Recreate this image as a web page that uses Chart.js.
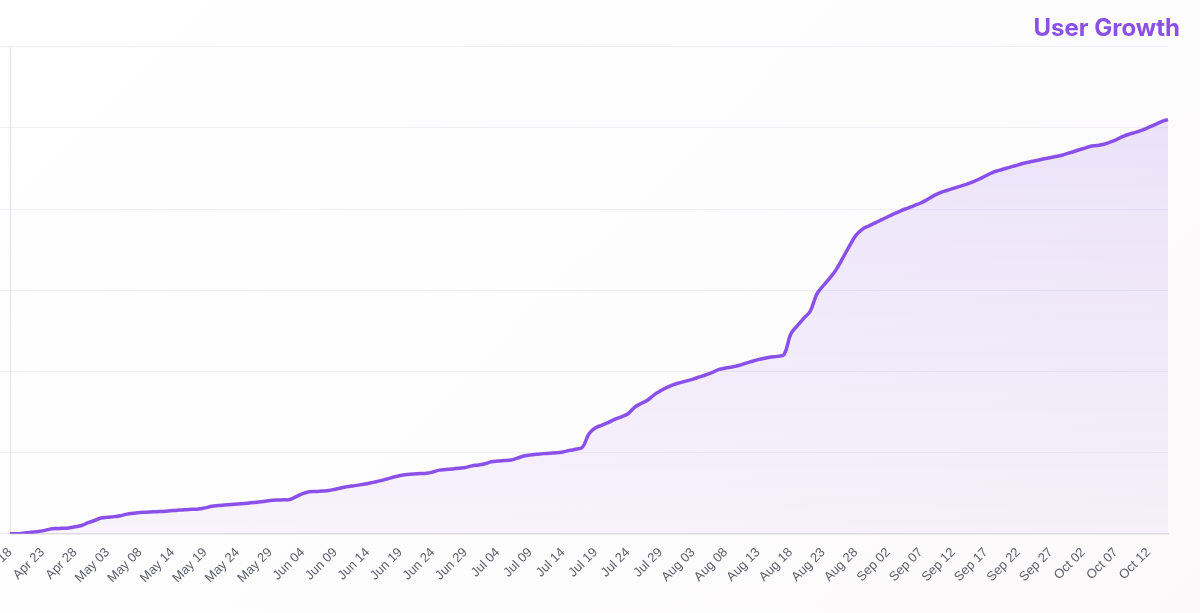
<!DOCTYPE html>
<html>
<head>
<meta charset="utf-8">
<title>User Growth</title>
<script src="https://cdn.jsdelivr.net/npm/chart.js@4.4.1/dist/chart.umd.min.js"></script>
<style>
    html, body { margin: 0; padding: 0; }
    body {
        width: 1200px;
        height: 613px;
        overflow: hidden;
        background: linear-gradient(135deg, #ffffff 0%, #fefdfd 55%, #fbf9f9 100%);
    }
    #chart-wrap { position: relative; width: 1200px; height: 613px; }
</style>
</head>
<body>
<div id="chart-wrap"><canvas id="growthChart"></canvas></div>
<script>
// --- data (daily, May 11 and Jun 01 missing) ---

const dateLabels = [
    'Apr 18', 'Apr 19', 'Apr 20', 'Apr 21', 'Apr 22', 'Apr 23', 'Apr 24', 'Apr 25', 'Apr 26', 'Apr 27', 'Apr 28', 'Apr 29', 'Apr 30',
    'May 01', 'May 02', 'May 03', 'May 04', 'May 05', 'May 06', 'May 07', 'May 08', 'May 09', 'May 10', 'May 12', 'May 13', 'May 14',
    'May 15', 'May 16', 'May 17', 'May 18', 'May 19', 'May 20', 'May 21', 'May 22', 'May 23', 'May 24', 'May 25', 'May 26', 'May 27',
    'May 28', 'May 29', 'May 30', 'May 31',
    'Jun 02', 'Jun 03', 'Jun 04', 'Jun 05', 'Jun 06', 'Jun 07', 'Jun 08', 'Jun 09', 'Jun 10', 'Jun 11', 'Jun 12', 'Jun 13', 'Jun 14',
    'Jun 15', 'Jun 16', 'Jun 17', 'Jun 18', 'Jun 19', 'Jun 20', 'Jun 21', 'Jun 22', 'Jun 23', 'Jun 24', 'Jun 25', 'Jun 26', 'Jun 27',
    'Jun 28', 'Jun 29', 'Jun 30',
    'Jul 01', 'Jul 02', 'Jul 03', 'Jul 04', 'Jul 05', 'Jul 06', 'Jul 07', 'Jul 08', 'Jul 09', 'Jul 10', 'Jul 11', 'Jul 12', 'Jul 13',
    'Jul 14', 'Jul 15', 'Jul 16', 'Jul 17', 'Jul 18', 'Jul 19', 'Jul 20', 'Jul 21', 'Jul 22', 'Jul 23', 'Jul 24', 'Jul 25', 'Jul 26',
    'Jul 27', 'Jul 28', 'Jul 29', 'Jul 30', 'Jul 31',
    'Aug 01', 'Aug 02', 'Aug 03', 'Aug 04', 'Aug 05', 'Aug 06', 'Aug 07', 'Aug 08', 'Aug 09', 'Aug 10', 'Aug 11', 'Aug 12', 'Aug 13',
    'Aug 14', 'Aug 15', 'Aug 16', 'Aug 17', 'Aug 18', 'Aug 19', 'Aug 20', 'Aug 21', 'Aug 22', 'Aug 23', 'Aug 24', 'Aug 25', 'Aug 26',
    'Aug 27', 'Aug 28', 'Aug 29', 'Aug 30', 'Aug 31',
    'Sep 01', 'Sep 02', 'Sep 03', 'Sep 04', 'Sep 05', 'Sep 06', 'Sep 07', 'Sep 08', 'Sep 09', 'Sep 10', 'Sep 11', 'Sep 12', 'Sep 13',
    'Sep 14', 'Sep 15', 'Sep 16', 'Sep 17', 'Sep 18', 'Sep 19', 'Sep 20', 'Sep 21', 'Sep 22', 'Sep 23', 'Sep 24', 'Sep 25', 'Sep 26',
    'Sep 27', 'Sep 28', 'Sep 29', 'Sep 30',
    'Oct 01', 'Oct 02', 'Oct 03', 'Oct 04', 'Oct 05', 'Oct 06', 'Oct 07', 'Oct 08', 'Oct 09', 'Oct 10', 'Oct 11', 'Oct 12', 'Oct 13',
    'Oct 14', 'Oct 15'
];

// cumulative users
const userCounts = [
    0, 1, 8, 16, 26, 36, 55, 65, 68, 73,
    86, 103, 137, 164, 195, 204, 212, 223, 243, 253,
    262, 266, 271, 275, 279, 286, 293, 298, 302, 307,
    320, 340, 349, 355, 361, 367, 374, 382, 390, 399,
    410, 416, 419, 422, 459, 496, 518, 522, 527, 534,
    550, 567, 584, 594, 606, 621, 637, 655, 677, 700,
    718, 730, 738, 742, 746, 762, 785, 792, 800, 809,
    818, 837, 849, 864, 887, 896, 902, 909, 933, 958,
    972, 980, 988, 994, 998, 1009, 1028, 1042, 1068, 1233,
    1306, 1339, 1372, 1412, 1442, 1479, 1558, 1606, 1646, 1712,
    1762, 1804, 1838, 1862, 1885, 1906, 1933, 1960, 1990, 2025,
    2042, 2056, 2073, 2100, 2123, 2146, 2164, 2178, 2186, 2211,
    2459, 2562, 2654, 2742, 2950, 3056, 3151, 3255, 3396, 3540,
    3674, 3751, 3793, 3831, 3870, 3909, 3946, 3982, 4013, 4044,
    4076, 4118, 4166, 4203, 4230, 4256, 4281, 4306, 4336, 4371,
    4411, 4451, 4477, 4500, 4523, 4546, 4568, 4586, 4602, 4621,
    4637, 4651, 4672, 4696, 4722, 4747, 4771, 4784, 4796, 4822,
    4854, 4894, 4923, 4945, 4973, 5006, 5041, 5079, 5103
];

const Y_MIN = 0;
const Y_MAX = 6000;
const Y_STEP = 1000;
const LABEL_EVERY = 5;

const PURPLE = '#8a50e8';

// --- chart ---

function areaGradient(context) {
    const { ctx, chartArea } = context.chart;
    if (!chartArea) return 'rgba(139, 82, 234, 0.1)';
    const g = ctx.createLinearGradient(0, chartArea.top, 0, chartArea.bottom);
    g.addColorStop(0, 'rgba(139, 82, 234, 0.16)');
    g.addColorStop(1, 'rgba(139, 82, 234, 0.06)');
    return g;
}

const ctx = document.getElementById('growthChart');

const growthChart = new Chart(ctx, {
    type: 'line',
    data: {
        labels: dateLabels,
        datasets: [{
            label: 'Users',
            data: userCounts,
            borderColor: PURPLE,
            backgroundColor: areaGradient,
            borderWidth: 3.5,
            fill: 'origin',
            tension: 0.4,
            pointRadius: 0,
            pointHoverRadius: 0
        }]
    },
    options: {
        responsive: true,
        maintainAspectRatio: false,
        animation: false,
        layout: {
            padding: { top: 0, right: 20, bottom: 24, left: 0 }
        },
        scales: {
            x: {
                grid: { display: false },
                border: { display: true, color: '#e0dde6', width: 1.5 },
                ticks: {
                    autoSkip: false,
                    maxRotation: 45,
                    minRotation: 45,
                    padding: 3,
                    color: '#5f6070',
                    font: { family: '"Liberation Sans", Arial, sans-serif', size: 13 },
                    callback: function(val, index) {
                        return index % LABEL_EVERY === 0 ? this.getLabelForValue(val) : null;
                    }
                },
                // first label may run off the left edge; plot stops short of the title's right edge
                afterFit: function(scale) {
                    scale.paddingLeft = 0;
                    scale.paddingRight = 32;
                }
            },
            y: {
                min: Y_MIN,
                max: Y_MAX,
                ticks: { display: false, stepSize: Y_STEP },
                grid: { color: '#f0eef4', tickLength: 10 },
                border: { display: true, color: '#e4e2e8', width: 1 }
            }
        },
        plugins: {
            legend: { display: false },
            tooltip: { enabled: false },
            title: {
                display: true,
                text: 'User Growth',
                align: 'end',
                color: PURPLE,
                font: { family: 'Inter, "Noto Sans", sans-serif', size: 24, weight: '700' },
                padding: { top: 14, bottom: 4 }
            }
        }
    }
});
</script>
</body>
</html>
